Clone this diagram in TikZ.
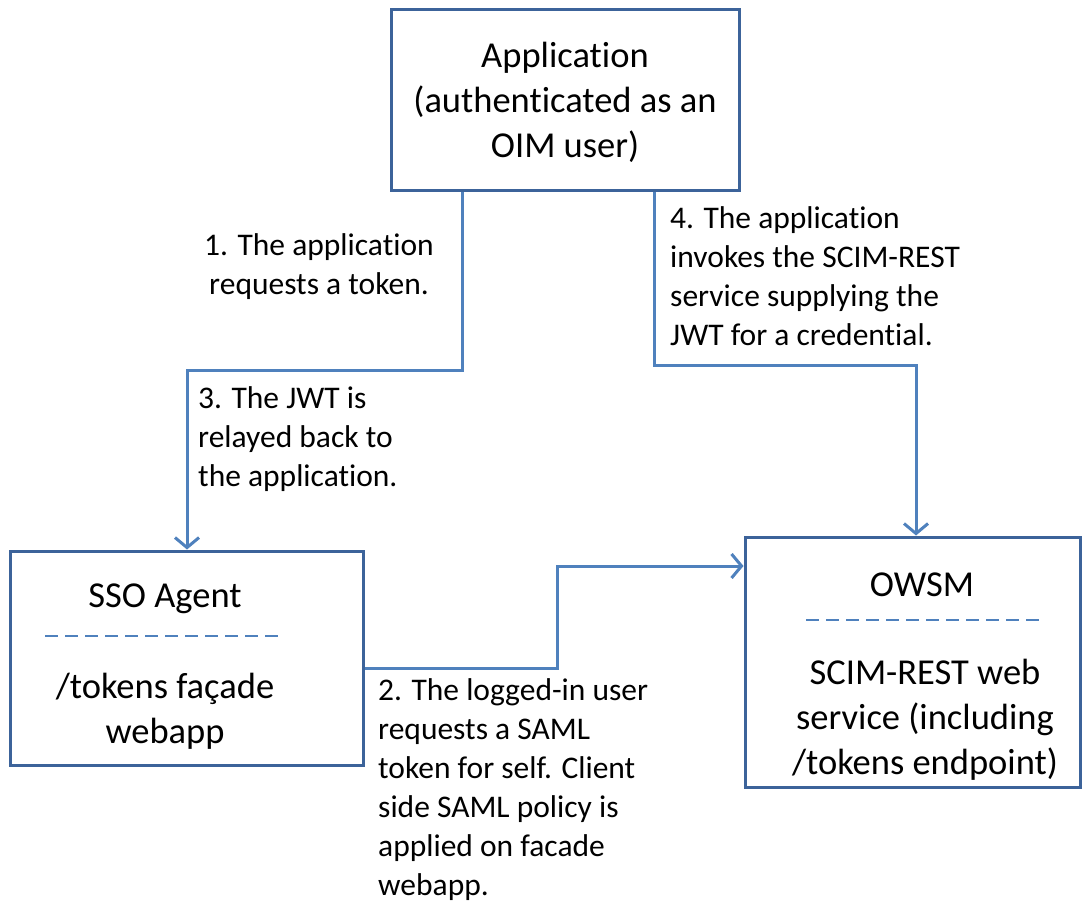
\documentclass[tikz,border=0pt]{standalone}
\usepackage{fontspec}
\setmainfont{Carlito}[Ligatures=NoCommon]
\usetikzlibrary{arrows.meta}
\definecolor{boxblue}{HTML}{3C639A}
\definecolor{lineblue}{HTML}{4F81BD}
\begin{document}
\begin{tikzpicture}[x=1pt,y=-1pt,
  box/.style={draw=boxblue,line width=3pt,fill=white,inner sep=0pt},
  boxtext/.style={font=\fontsize{36.5}{45}\selectfont,align=center,inner sep=0pt},
  lbl/.style={font=\fontsize{31.5}{39}\selectfont,align=left,anchor=north west,inner sep=0pt},
  conn/.style={draw=lineblue,line width=3pt,-{Straight Barb[length=10pt,width=24pt,line width=3pt]}},
  sep/.style={draw=lineblue,line width=1.6pt,dash pattern=on 13pt off 7pt}]
\useasboundingbox (0,0) rectangle (1084,901);
% boxes
\node[box,minimum width=348pt,minimum height=181pt] (app) at (565,100.5) {};
\node[box,minimum width=353pt,minimum height=214pt] (sso) at (186.5,658) {};
\node[box,minimum width=335pt,minimum height=250pt] (owsm) at (912.5,662) {};
% box texts
\node[boxtext] (apptxt) at (565,102) {Application\\(authenticated as an\\OIM user)};
\node[boxtext] (ssotitle) at (165,599) {SSO Agent};
\node[boxtext] (ssotxt) at (165,711) {/tokens façade\\webapp};
\node[boxtext] (owsmtitle) at (922,585) {OWSM};
\node[boxtext] (owsmtxt) at (925,720) {SCIM-REST web\\service (including\\/tokens endpoint)};
% separators
\coordinate (s1a) at (45,636); \coordinate (s1b) at (282,636);
\draw[sep] (s1a) -- (s1b);
\coordinate (s2a) at (806,620); \coordinate (s2b) at (1042,620);
\draw[sep] (s2a) -- (s2b);
% connectors
\coordinate (a1) at (462,370); \coordinate (a2) at (187,370);
\draw[conn] (app.south -| a1) -- (a1) -- (a2) -- (sso.north -| a2);
\coordinate (b1) at (654,365); \coordinate (b2) at (916,365);
\draw[conn] (app.south -| b1) -- (b1) -- (b2) -- (owsm.north -| b2);
\coordinate (c1) at (557,668); \coordinate (c2) at (557,566);
\draw[conn] (sso.east |- c1) -- (c1) -- (c2) -- (owsm.west |- c2);
% labels
\node[lbl,align=center,anchor=north] (l1) at (319,233) {1. The application\\requests a token.};
\node[lbl] (l3) at (198,386) {3. The JWT is\\relayed back to\\the application.};
\node[lbl] (l4) at (670,206) {4. The application\\invokes the SCIM-REST\\service supplying the\\JWT for a credential.};
\node[lbl] (l2) at (378,678) {2. The logged-in user\\requests a SAML\\token for self. Client\\side SAML policy is\\applied on facade\\webapp.};
\end{tikzpicture}
\end{document}
